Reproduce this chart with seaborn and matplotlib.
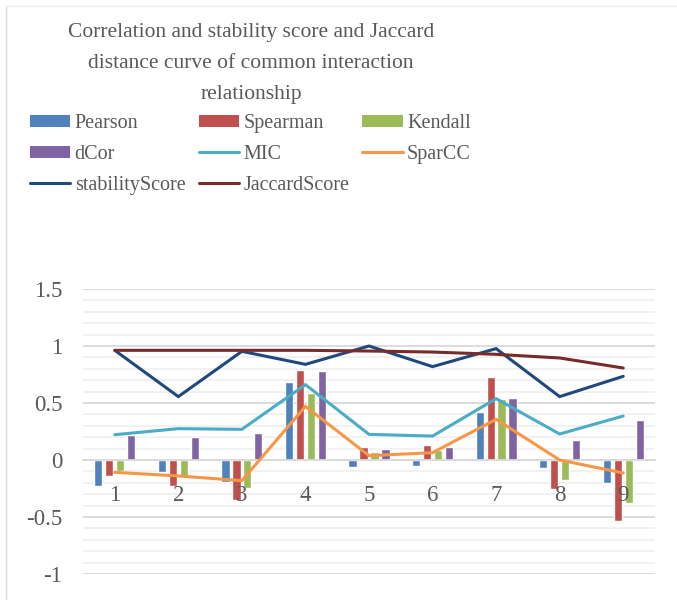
import numpy as np
import pandas as pd
import seaborn as sns
import matplotlib
matplotlib.use("Agg")
import matplotlib.pyplot as plt
from matplotlib.patches import Patch
from matplotlib.lines import Line2D
from matplotlib.ticker import MultipleLocator, FixedLocator

categories = ["1", "2", "3", "4", "5", "6", "7", "8", "9"]
pearson = [-0.225, -0.108, -0.193, 0.684, -0.058, -0.050, 0.424, -0.067, -0.205]
spearman = [-0.140, -0.228, -0.354, 0.787, 0.114, 0.130, 0.725, -0.251, -0.535]
kendall = [-0.097, -0.137, -0.243, 0.588, 0.073, 0.088, 0.532, -0.173, -0.380]
dcor = [0.222, 0.199, 0.240, 0.778, 0.096, 0.111, 0.547, 0.175, 0.351]
mic = [0.222, 0.275, 0.269, 0.661, 0.225, 0.210, 0.538, 0.228, 0.386]
sparcc = [-0.108, -0.140, -0.181, 0.471, 0.038, 0.064, 0.357, 0.000, -0.114]
stability = [0.962, 0.556, 0.953, 0.839, 1.000, 0.819, 0.977, 0.556, 0.734]
jaccard = [0.962, 0.962, 0.962, 0.962, 0.956, 0.947, 0.927, 0.895, 0.807]

bar_names = ["Pearson", "Spearman", "Kendall", "dCor"]
bar_values = [pearson, spearman, kendall, dcor]
line_names = ["MIC", "SparCC", "stabilityScore", "JaccardScore"]
line_values = [mic, sparcc, stability, jaccard]

colors = {
    "Pearson": "#4f81bd", "Spearman": "#c0504d", "Kendall": "#9bbb59", "dCor": "#8064a2",
    "MIC": "#4bacc6", "SparCC": "#f79646", "stabilityScore": "#1f497d", "JaccardScore": "#772c2a",
}

title = "Correlation and stability score and Jaccard\ndistance curve of common interaction\nrelationship"

sns.set_theme(style="white")
plt.rcParams["font.family"] = ["Liberation Serif", "DejaVu Serif"]
text_color = "#595959"

rows = []
for name, vals in zip(bar_names, bar_values):
    for c, v in zip(categories, vals):
        rows.append({"cat": c, "series": name, "value": v})
df = pd.DataFrame(rows)

fig = plt.figure(figsize=(6.77, 6.0), dpi=100)
ax = fig.add_axes([83 / 677, 1 - 574 / 600, (655 - 83) / 677, (574 - 289) / 600])

sns.barplot(data=df, x="cat", y="value", hue="series", order=categories,
            hue_order=bar_names, palette=[colors[n] for n in bar_names],
            width=0.69, gap=0.25, ax=ax, legend=False, saturation=1)

xpos = np.arange(len(categories))
for name, vals in zip(line_names, line_values):
    ax.plot(xpos, vals, color=colors[name], lw=2.2, zorder=5, solid_joinstyle="miter")

ax.set_ylim(-1, 1.5)
ax.set_xlim(-0.5, len(categories) - 0.5)
ax.yaxis.set_major_locator(MultipleLocator(0.5))
ax.yaxis.set_minor_locator(MultipleLocator(0.1))
ax.grid(axis="y", which="major", color="#d9d9d9", lw=1.3, zorder=0)
ax.grid(axis="y", which="minor", color="#ededed", lw=1.1, zorder=0)
ax.set_axisbelow(True)
for s in ["top", "right", "left"]:
    ax.spines[s].set_visible(False)
ax.spines["bottom"].set_position(("data", 0))
ax.spines["bottom"].set_color("#d9d9d9")
ax.spines["bottom"].set_linewidth(1.3)
ax.spines["bottom"].set_zorder(1)

ax.set_xticks(xpos, minor=True)
ax.set_xticklabels(categories, minor=True)
ax.xaxis.set_major_locator(FixedLocator(np.arange(-0.5, len(categories), 1.0)))
ax.set_xticklabels([""] * len(ax.get_xticks()))
ax.tick_params(axis="x", which="major", length=6, width=1.3, color="#d9d9d9", direction="out")
ax.tick_params(axis="x", which="minor", length=0, pad=18, labelsize=16.5, labelcolor=text_color)
ax.tick_params(axis="y", which="both", length=0, pad=15, labelsize=16.5, labelcolor=text_color)
ax.yaxis.set_major_formatter(matplotlib.ticker.FuncFormatter(lambda v, p: f"{v:g}"))
ax.xaxis.set_zorder(10)
ax.set_xlabel("")
ax.set_ylabel("")

fig.text(251 / 677, 1 - 23 / 600, title, ha="center", va="top", fontsize=15.5,
         color=text_color, linespacing=1.85)

handles = {}
for n in bar_names:
    handles[n] = Patch(facecolor=colors[n], edgecolor="none")
for n in line_names:
    handles[n] = Line2D([], [], color=colors[n], lw=2.2)
order = ["Pearson", "dCor", "stabilityScore", "Spearman", "MIC", "JaccardScore", "Kendall", "SparCC"]
leg = fig.legend([handles[n] for n in order], order, ncol=3, loc="upper left",
                 bbox_to_anchor=(30 / 677, 1 - 114 / 600), frameon=False, fontsize=14.5,
                 handlelength=2.0, handleheight=0.6, handletextpad=0.22,
                 columnspacing=0.65, labelspacing=0.6, borderpad=0, borderaxespad=0)
for t in leg.get_texts():
    t.set_color(text_color)

fig.add_artist(Line2D([6 / 677, 6 / 677], [0, 1 - 6 / 600], color="#d9d9d9", lw=1.0,
                      transform=fig.transFigure))
fig.add_artist(Line2D([6 / 677, 1], [1 - 6 / 600, 1 - 6 / 600], color="#ececec", lw=1.0,
                      transform=fig.transFigure))

fig.savefig("out.png", dpi=100)
